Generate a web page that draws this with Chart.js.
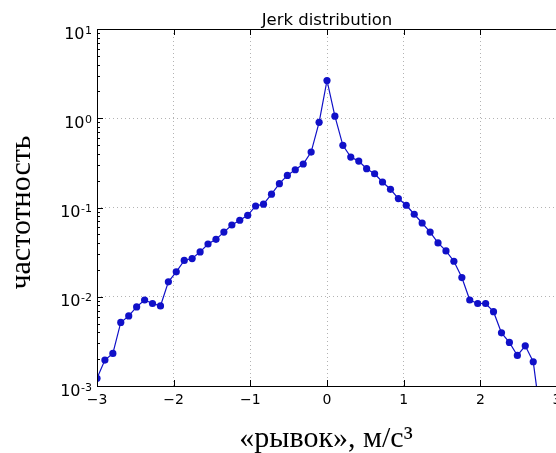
<!DOCTYPE html>
<html>
<head>
<meta charset="utf-8">
<script src="https://cdn.jsdelivr.net/npm/chart.js@4.4.1/dist/chart.umd.min.js"></script>
<style>
  html, body { margin: 0; padding: 0; background: #fff; overflow: hidden; }
  #wrap { width: 556px; height: 453px; overflow: hidden; position: relative; }
  #jerkChart { position: absolute; left: 0; top: 0; }
</style>
</head>
<body>
<div id="wrap"><canvas id="jerkChart" width="600" height="453"></canvas></div>
<script>
// Centres des classes (m/s^3)
const jerkX = [
  -3.000, -2.897, -2.793, -2.690, -2.586, -2.483, -2.379, -2.276, -2.172, -2.069,
  -1.966, -1.862, -1.759, -1.655, -1.552, -1.448, -1.345, -1.241, -1.138, -1.034,
  -0.931, -0.828, -0.724, -0.621, -0.517, -0.414, -0.310, -0.207, -0.103, 0.000,
  0.103, 0.207, 0.310, 0.414, 0.517, 0.621, 0.724, 0.828, 0.931, 1.034,
  1.138, 1.241, 1.345, 1.448, 1.552, 1.655, 1.759, 1.862, 1.966, 2.069,
  2.172, 2.276, 2.379, 2.483, 2.586, 2.690, 2.793
];
// Fréquences
const frequency = [
  0.00122, 0.00195, 0.00232, 0.00515, 0.0061, 0.0077, 0.0092, 0.0084, 0.0079, 0.0147,
  0.019, 0.0255, 0.0268, 0.0318, 0.039, 0.044, 0.053, 0.0637, 0.072, 0.0818,
  0.104, 0.109, 0.141, 0.185, 0.229, 0.265, 0.307, 0.418, 0.90, 2.65,
  1.055, 0.497, 0.367, 0.331, 0.272, 0.239, 0.193, 0.16, 0.126, 0.106,
  0.084, 0.067, 0.053, 0.0401, 0.0326, 0.025, 0.0164, 0.0092, 0.0084, 0.0084,
  0.0068, 0.00394, 0.00308, 0.0022, 0.00282, 0.00187, 0.0004
];
const xTicks = [-3, -2, -1, 0, 1, 2, 3];
const xTickLabels = ['\u22123', '\u22122', '\u22121', '0', '1', '2', '3'];
const yTicks = [0.001, 0.01, 0.1, 1, 10];
const yTickExponents = ['-3', '-2', '-1', '0', '1'];

const chartTitle = 'Jerk distribution';
const xTitle = '«рывок», м/с³';
const yTitle = 'частотность';

const points = jerkX.map((x, i) => ({ x: x, y: frequency[i] }));

// Cadre, graduations intérieures, étiquettes 10^n et titres façon matplotlib
const frame = {
    id: 'frame',
    afterDraw(chart) {
        const ctx = chart.ctx;
        const a = chart.chartArea;
        const xs = chart.scales.x, ys = chart.scales.y;
        ctx.save();
        ctx.strokeStyle = '#000';
        ctx.lineWidth = 1;
        ctx.strokeRect(a.left + 0.5, a.top + 0.5, a.right - a.left, a.bottom - a.top);
        ctx.beginPath();
        xTicks.forEach(v => {
            const px = Math.round(xs.getPixelForValue(v)) + 0.5;
            ctx.moveTo(px, a.bottom); ctx.lineTo(px, a.bottom - 6);
            ctx.moveTo(px, a.top); ctx.lineTo(px, a.top + 6);
        });
        for (let d = -3; d < 1; d++) {
            for (let m = 1; m < 10; m++) {
                const py = Math.round(ys.getPixelForValue(m * Math.pow(10, d))) + 0.5;
                const len = m === 1 ? 6 : 3;
                ctx.moveTo(a.left, py); ctx.lineTo(a.left + len, py);
            }
        }
        ctx.stroke();

        ctx.fillStyle = '#000';
        ctx.textBaseline = 'alphabetic';

        // étiquettes de l'axe y : "10" + exposant
        yTicks.forEach((v, i) => {
            const py = ys.getPixelForValue(v);
            ctx.font = '11px "DejaVu Sans"';
            ctx.textAlign = 'right';
            const exp = yTickExponents[i];
            ctx.fillText(exp, 92, py + 4.5);
            const w = ctx.measureText(exp).width;
            ctx.font = '16px "DejaVu Sans"';
            ctx.fillText('10', 92 - w - 0.5, py + 9.5);
        });

        ctx.textAlign = 'center';
        ctx.font = '16.5px "DejaVu Sans"';
        ctx.fillText(chartTitle, (a.left + a.right) / 2, 25);

        ctx.font = '30px "Liberation Serif"';
        ctx.fillText(xTitle, 326, 446.5);

        ctx.translate(30, 212.5);
        ctx.rotate(-Math.PI / 2);
        ctx.fillText(yTitle, 0, 0);
        ctx.restore();
    }
};

new Chart(document.getElementById('jerkChart'), {
    type: 'line',
    data: {
        datasets: [{
            data: points,
            borderColor: '#1010c8',
            backgroundColor: '#1010c8',
            borderWidth: 1.2,
            pointRadius: 3.6,
            pointBorderWidth: 0,
            tension: 0,
            fill: false
        }]
    },
    options: {
        responsive: false,
        animation: false,
        layout: { padding: { left: 0, right: 43, top: 29, bottom: 0 } },
        plugins: { legend: { display: false }, tooltip: { enabled: false } },
        scales: {
            x: {
                type: 'linear',
                min: -3,
                max: 3,
                afterBuildTicks: s => { s.ticks = xTicks.map(v => ({ value: v })); },
                afterFit: s => { s.height = 67; },
                ticks: {
                    padding: 6,
                    color: '#000',
                    font: { family: 'DejaVu Sans', size: 14 },
                    maxRotation: 0,
                    callback: v => xTickLabels[xTicks.indexOf(v)]
                },
                grid: { color: '#a0a0a0', lineWidth: 0.8, drawTicks: false },
                border: { display: false, dash: [1, 3] }
            },
            y: {
                type: 'logarithmic',
                min: 0.001,
                max: 10,
                afterBuildTicks: s => { s.ticks = yTicks.map(v => ({ value: v })); },
                afterFit: s => { s.width = 97; },
                ticks: { display: false },
                grid: { color: '#a0a0a0', lineWidth: 0.8, drawTicks: false },
                border: { display: false, dash: [1, 3] }
            }
        }
    },
    plugins: [frame]
});
</script>
</body>
</html>
